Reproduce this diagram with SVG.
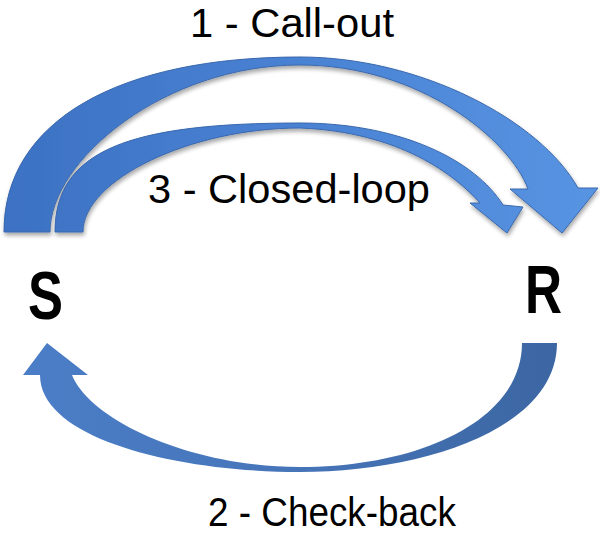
<svg xmlns="http://www.w3.org/2000/svg" width="600" height="536" viewBox="0 0 600 536">
  <style>
    .lbl { font-family: "Liberation Sans", Arial, sans-serif; font-size: 41px; fill: #000; }
    .node { font-family: "Liberation Sans", Arial, sans-serif; font-size: 68px; font-weight: bold; fill: #000; }
    .top { fill: url(#gTop); stroke: #3a68ad; stroke-width: 1; filter: url(#shadow); }
    .bot { fill: url(#gBot); stroke: none; }
  </style>
  <defs>
    <linearGradient id="gTop" x1="0" y1="0" x2="600" y2="0" gradientUnits="userSpaceOnUse">
      <stop offset="0" stop-color="#3c71c3"/>
      <stop offset="0.5" stop-color="#4a82d3"/>
      <stop offset="1" stop-color="#5794e2"/>
    </linearGradient>
    <linearGradient id="gBot" x1="0" y1="0" x2="600" y2="0" gradientUnits="userSpaceOnUse">
      <stop offset="0" stop-color="#4b7fc8"/>
      <stop offset="0.5" stop-color="#4674b8"/>
      <stop offset="1" stop-color="#3a649f"/>
    </linearGradient>
    <filter id="shadow" x="-10%" y="-10%" width="120%" height="130%">
      <feGaussianBlur in="SourceAlpha" stdDeviation="2"/>
      <feOffset dx="1" dy="3" result="b"/>
      <feComponentTransfer><feFuncA type="linear" slope="0.35"/></feComponentTransfer>
      <feMerge><feMergeNode/><feMergeNode in="SourceGraphic"/></feMerge>
    </filter>
  </defs>
  <rect width="600" height="536" fill="#fff"/>

  <g id="connectors">
    <g id="edge-callout">
      <path class="top" d="M4,232 C4,120 120,57 300,57 C420,57 540,120 578,188 L598,188 L562,233 L510,189 L528,189 C510,140 420,65 300,65 C165,65 50,160 50,232 Z"/>
      <text class="lbl" x="190" y="37" textLength="204" lengthAdjust="spacingAndGlyphs">1 - Call-out</text>
    </g>
    <g id="edge-closedloop">
      <path class="top" d="M55,232 C55,150 130,123 300,123 C400,123 475,160 503,205 L523,207 L507,233 L470,203 L480,203 C455,175 400,132 300,128 C190,128 83,180 83,232 Z"/>
      <text class="lbl" x="148" y="203" textLength="282" lengthAdjust="spacingAndGlyphs">3 - Closed-loop</text>
    </g>
    <g id="edge-checkback">
      <path class="bot" d="M557,343 C557,430 420,472 300,472 C180,472 40,440 40,375 L23,375 L47,343 L88,375 L72,375 C90,420 190,467 300,467 C420,467 522,420 522,343 Z"/>
      <text class="lbl" x="208" y="526" textLength="248" lengthAdjust="spacingAndGlyphs">2 - Check-back</text>
    </g>
  </g>

  <g id="node-S">
    <text class="node" x="28" y="319" textLength="35" lengthAdjust="spacingAndGlyphs">S</text>
  </g>
  <g id="node-R">
    <text class="node" x="525" y="313" textLength="37" lengthAdjust="spacingAndGlyphs">R</text>
  </g>
</svg>
